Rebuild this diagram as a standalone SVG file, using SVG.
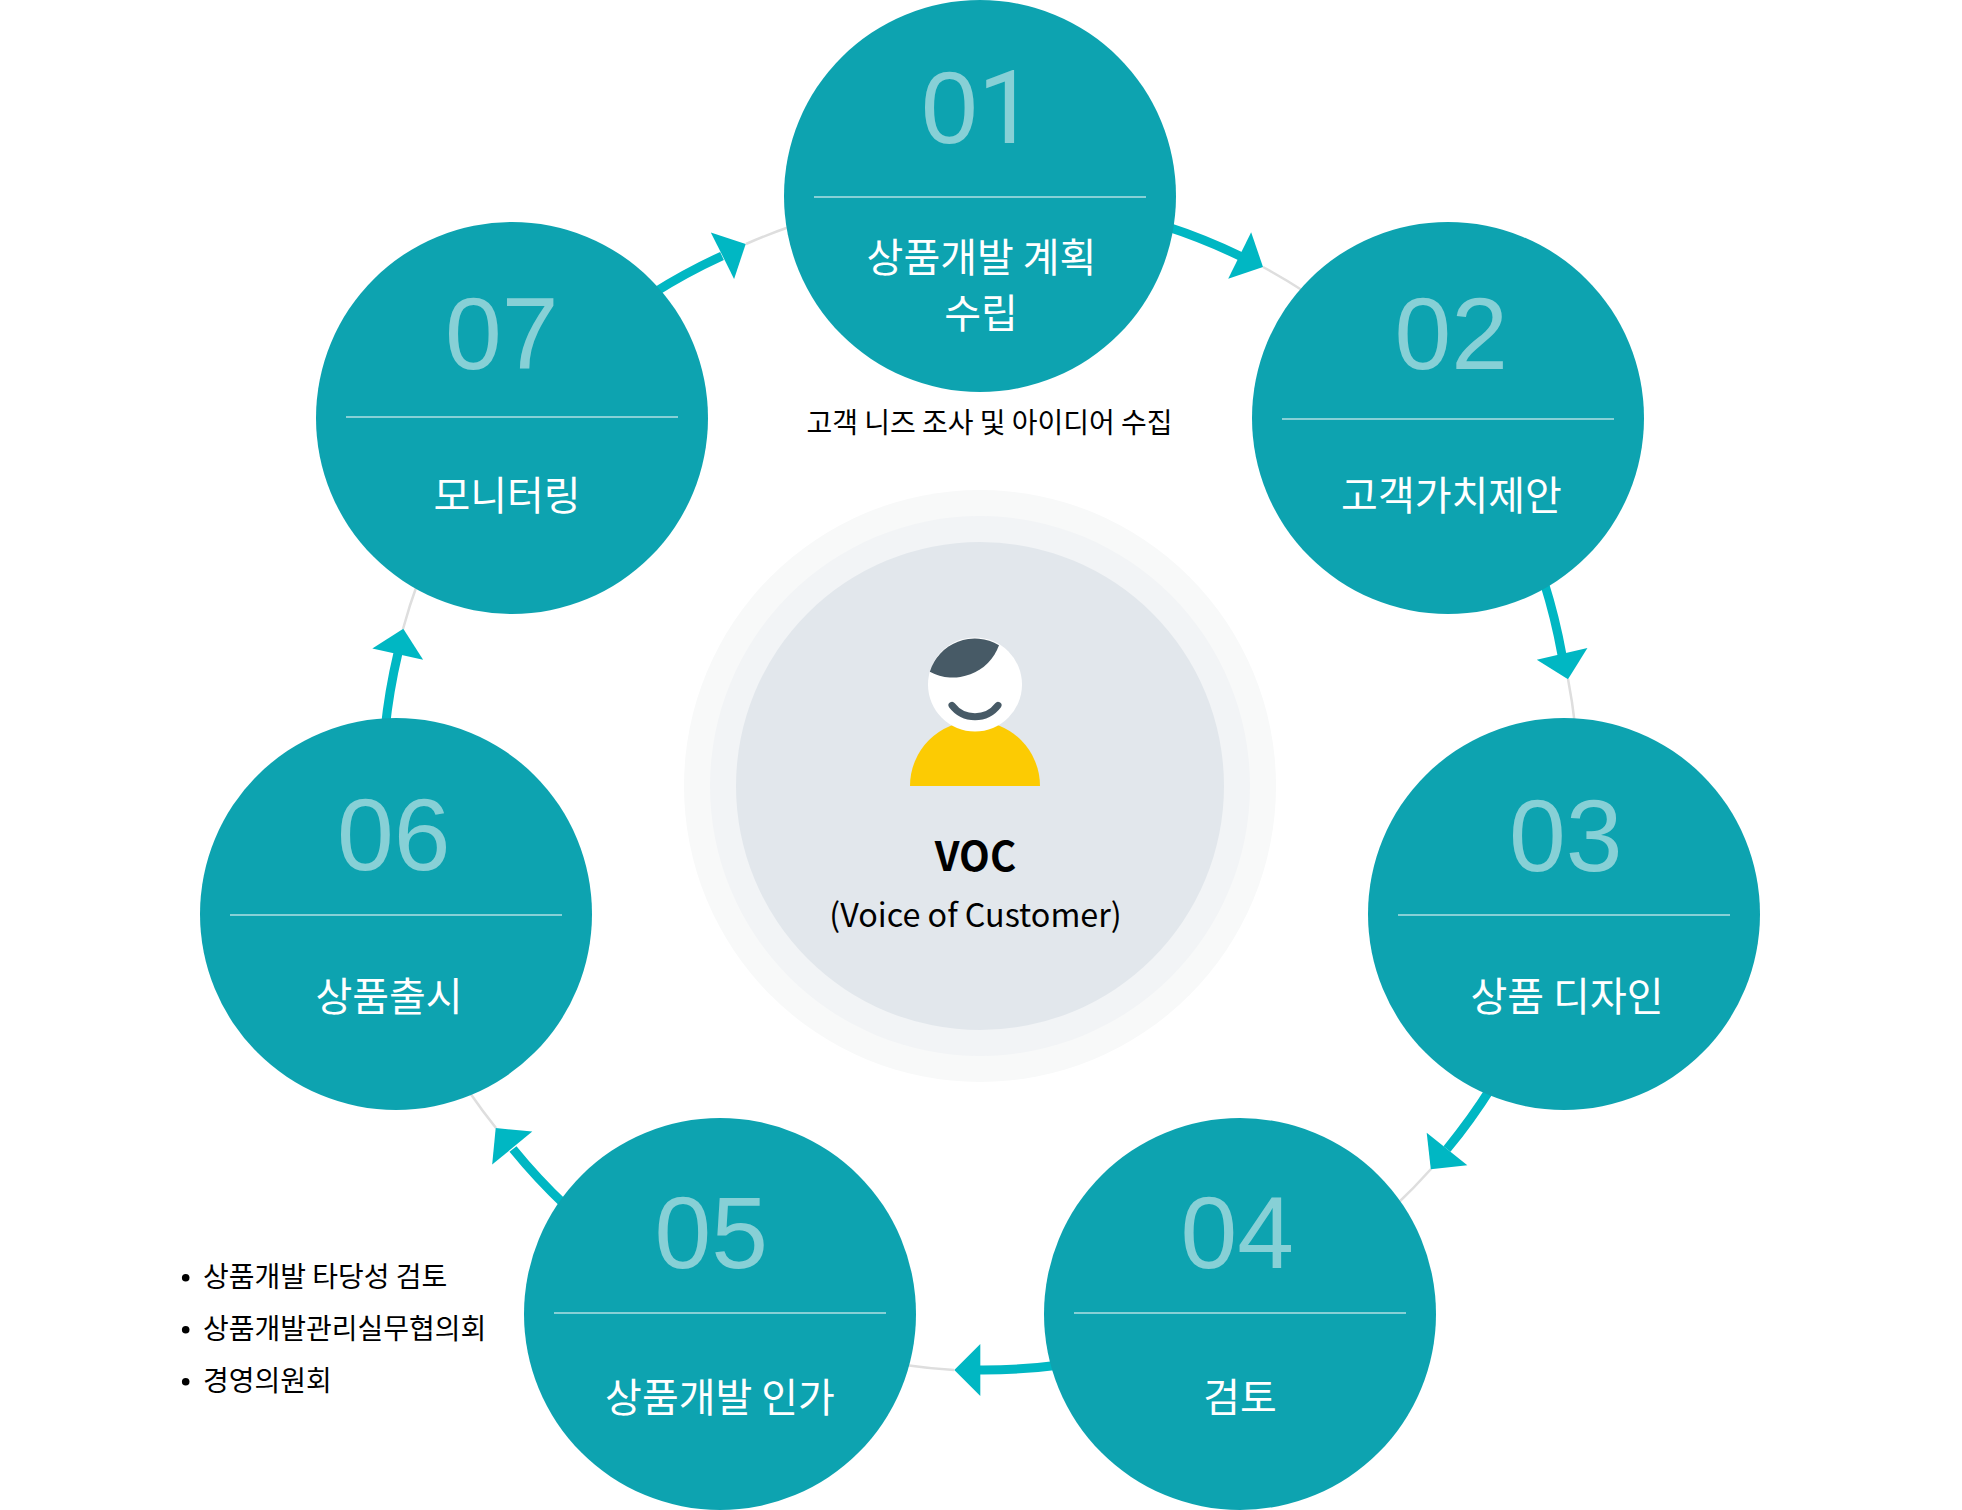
<svg xmlns="http://www.w3.org/2000/svg" width="1962" height="1510" viewBox="0 0 1962 1510">
<style>
text{font-family:"Noto Sans CJK KR","Noto Sans",sans-serif}
.c{fill:#0da3b0}
.d{stroke:#87d0d6;stroke-width:2;fill:none}
.n{font-family:"Liberation Sans",Arial,sans-serif;font-size:102px;fill:#87d0d6}
.l{font-size:40px;fill:#fff;text-anchor:middle;font-weight:400}
.s{font-size:28px;fill:#000}
.g{fill:none;stroke:#dedede;stroke-width:2.5}
.a{fill:none;stroke:#00b7c3;stroke-width:9}
.h{fill:#00b7c3}
</style>
<defs><path id="head" d="M0 0L-26 -26L-26 26Z"/></defs>
<rect width="1962" height="1510" fill="#fff"/>
<g id="center">
<circle cx="980" cy="786" r="296" fill="#f8f9f9"/>
<circle cx="980" cy="786" r="270" fill="#f2f4f6"/>
<circle cx="980" cy="786" r="244" fill="#e2e7ec"/>
<path d="M910 786A65 65 0 0 1 1040 786Z" fill="#fccb03"/>
<circle cx="975" cy="684.500" r="47" fill="#fff"/>
<path d="M929.800 671.800A47 47 0 0 1 999 645.300A49 49 0 0 1 929.800 671.800Z" fill="#475a66"/>
<path d="M952 705.400A29 29 0 0 0 998 705.400" fill="none" stroke="#475a66" stroke-width="7" stroke-linecap="round"/>
<text x="975.500" y="871" font-size="40" font-weight="700" text-anchor="middle" fill="#000">VOC</text>
<text x="975.500" y="927" font-size="32.300" text-anchor="middle" fill="#000">(Voice of Customer)</text>
</g>
<g id="connectors">
<path class="g" d="M1263 267A590 590 0 0 1 1305 292"/>
<path class="g" d="M1568 679A590 590 0 0 1 1575 725"/>
<path class="g" d="M1431 1169A590 590 0 0 1 1395 1206"/>
<path class="g" d="M954 1370A590 590 0 0 1 905 1365"/>
<path class="g" d="M496 1128A590 590 0 0 1 470 1093"/>
<path class="g" d="M403 629A590 590 0 0 1 418 582"/>
<path class="g" d="M746 244A590 590 0 0 1 792 226"/>
<path class="a" d="M1165 226A590 590 0 0 1 1242 257"/>
<path class="a" d="M1544 582A590 590 0 0 1 1562 655"/>
<path class="a" d="M1491 1088A590 590 0 0 1 1447 1149"/>
<path class="a" d="M1060 1365A590 590 0 0 1 979 1370"/>
<path class="a" d="M566 1206A590 590 0 0 1 513 1149"/>
<path class="a" d="M385 730A590 590 0 0 1 398 653"/>
<path class="a" d="M652 294A590 590 0 0 1 722 256"/>
<use href="#head" class="h" transform="translate(1263 267) rotate(26.2)"/>
<use href="#head" class="h" transform="translate(1568 679.300) rotate(76.9)"/>
<use href="#head" class="h" transform="translate(1430.800 1169.300) rotate(128.6)"/>
<use href="#head" class="h" transform="translate(954.300 1370) rotate(180)"/>
<use href="#head" class="h" transform="translate(495.700 1128) rotate(230.5)"/>
<use href="#head" class="h" transform="translate(403.300 628.700) rotate(-77.6)"/>
<use href="#head" class="h" transform="translate(745.700 244) rotate(-26.6)"/>
</g>
<g id="node-01"><circle class="c" cx="980" cy="196" r="196"/><path class="d" d="M814 197H1146"/><text class="n" x="921" y="143">0<tspan font-family="Roboto,sans-serif">1</tspan></text><text class="l" x="981.500" y="272">상품개발 계획</text><text class="l" x="981" y="327.500">수립</text></g>
<g id="node-02"><circle class="c" cx="1448" cy="418" r="196"/><path class="d" d="M1282 419H1614"/><text class="n" x="1394.500" y="369">02</text><text class="l" x="1451.500" y="510">고객가치제안</text></g>
<g id="node-03"><circle class="c" cx="1564" cy="914" r="196"/><path class="d" d="M1398 915H1730"/><text class="n" x="1509" y="871">03</text><text class="l" x="1567" y="1010.500">상품 디자인</text></g>
<g id="node-04"><circle class="c" cx="1240" cy="1314" r="196"/><path class="d" d="M1074 1313H1406"/><text class="n" x="1180.500" y="1268">04</text><text class="l" x="1240" y="1412">검토</text></g>
<g id="node-05"><circle class="c" cx="720" cy="1314" r="196"/><path class="d" d="M554 1313H886"/><text class="n" x="654.500" y="1268">05</text><text class="l" x="720" y="1412">상품개발 인가</text></g>
<g id="node-06"><circle class="c" cx="396" cy="914" r="196"/><path class="d" d="M230 915H562"/><text class="n" x="337" y="870">06</text><text class="l" x="389" y="1010.500">상품출시</text></g>
<g id="node-07"><circle class="c" cx="512" cy="418" r="196"/><path class="d" d="M346 417H678"/><text class="n" x="445" y="369">07</text><text class="l" x="507" y="510">모니터링</text></g>
<g id="note-01"><text class="s" x="989.500" y="433" text-anchor="middle">고객 니즈 조사 및 아이디어 수집</text></g>
<g id="note-05">
<circle cx="185.700" cy="1277.700" r="3.800"/><circle cx="185.700" cy="1329.700" r="3.800"/><circle cx="185.700" cy="1381.700" r="3.800"/>
<text class="s" x="203" y="1287">상품개발 타당성 검토</text>
<text class="s" x="203" y="1339">상품개발관리실무협의회</text>
<text class="s" x="203" y="1391">경영의원회</text>
</g>
</svg>
